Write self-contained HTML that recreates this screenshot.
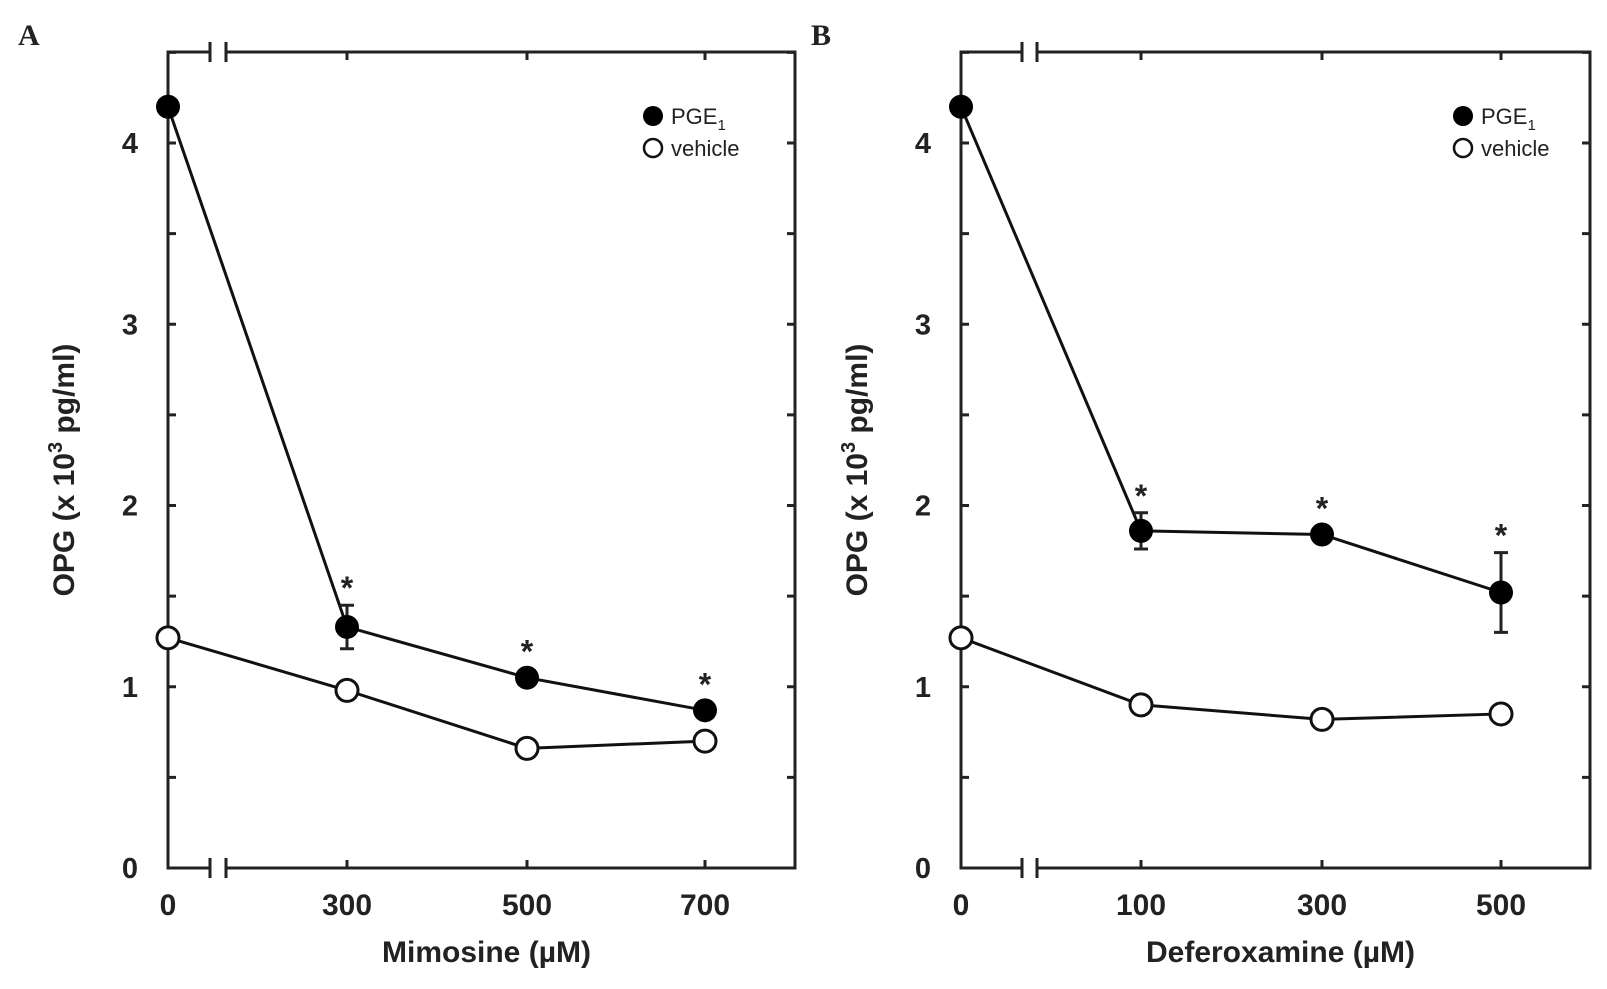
<!DOCTYPE html>
<html><head><meta charset="utf-8"><style>
body{margin:0;background:#fff}
svg text{font-family:"Liberation Sans",Arial,sans-serif;fill:#222}
</style></head><body>
<svg id="chart" width="1607" height="984" xmlns="http://www.w3.org/2000/svg"></svg>
<script>
const yTicks=[0,1,2,3,4];
const catsA=["0","300","500","700"];
const pgeA=[4.2,1.33,1.05,0.87];
const pgeErrA=[0,0.12,0.02,0.02];
const vehA=[1.27,0.98,0.66,0.70];
const starA=[false,true,true,true];
const catsB=["0","100","300","500"];
const pgeB=[4.2,1.86,1.84,1.52];
const pgeErrB=[0,0.1,0.02,0.22];
const vehB=[1.27,0.90,0.82,0.85];
const starB=[false,true,true,true];

const NS="http://www.w3.org/2000/svg";
const svg=document.getElementById('chart');
function el(tag,attrs,parent,text){const e=document.createElementNS(NS,tag);for(const k in attrs)e.setAttribute(k,attrs[k]);if(text!==undefined)e.textContent=text;(parent||svg).appendChild(e);return e;}
const Y0=868,YU=181.25;
function y(v){return Y0-v*YU;}

function panel(id,letter,L,R,xs,brk,cats,pge,err,veh,star,xlabel,legX){
  const g=el('g',{});
  
  
  const top=52, st={stroke:'#222','stroke-width':3,fill:'none'};
  function x(i){return xs[i];}
  el('path',Object.assign({d:`M${brk[0]},${top}H${L}V${Y0}H${brk[0]}M${brk[1]},${Y0}H${R}V${top}H${brk[1]}`},st),g);
  [brk[0],brk[1]].forEach(b=>{el('line',Object.assign({x1:b,x2:b,y1:top-10,y2:top+10},st),g);el('line',Object.assign({x1:b,x2:b,y1:Y0-10,y2:Y0+10},st),g);});
  for(let v=0.5;v<=4.5;v+=0.5){el('line',Object.assign({x1:L,x2:L+8,y1:y(v),y2:y(v)},st),g);el('line',Object.assign({x1:R,x2:R-8,y1:y(v),y2:y(v)},st),g);}
  yTicks.forEach(v=>{const t=el('text',{x:L-30,y:y(v)+10,'font-size':29,'font-weight':'bold','text-anchor':'end'},g,v);});
  cats.forEach((c,i)=>{
    if(i>0){el('line',Object.assign({x1:x(i),x2:x(i),y1:Y0,y2:Y0-8},st),g);el('line',Object.assign({x1:x(i),x2:x(i),y1:top,y2:top+8},st),g);}
    const t=el('text',{x:x(i),y:915,'font-size':30,'font-weight':'bold','text-anchor':'middle'},g,c);
    
  });
  const xt=el('text',{x:(L+R)/2+5,y:962,'font-size':30,'font-weight':'bold','text-anchor':'middle'},g,xlabel);
  
  const yt=el('text',{x:0,y:0,'font-size':30,'font-weight':'bold','text-anchor':'middle',transform:`translate(${L-94},${470}) rotate(-90)`},g);
  
  yt.innerHTML='OPG (x 10<tspan font-size="20" dy="-12">3</tspan><tspan dy="12"> pg/ml)</tspan>';
  const pl=el('text',{x:L-150,y:45,'font-size':30,'font-weight':'bold',style:'font-family:"Liberation Serif",serif'},g,letter);
  
  const lp=el('polyline',{points:pge.map((v,i)=>x(i)+','+y(v)).join(' '),stroke:'#111','stroke-width':3,fill:'none'},g);
  
  const lv=el('polyline',{points:veh.map((v,i)=>x(i)+','+y(v)).join(' '),stroke:'#111','stroke-width':3,fill:'none'},g);
  
  pge.forEach((v,i)=>{
    if(err[i]>0.05){el('path',{d:`M${x(i)},${y(v+err[i])}V${y(v-err[i])}M${x(i)-7},${y(v+err[i])}h14M${x(i)-7},${y(v-err[i])}h14`,stroke:'#222','stroke-width':3},g);}
    if(star[i]){const s=el('text',{x:x(i),y:y(v+Math.max(err[i],0.05))-6,'font-size':32,'font-weight':'bold','text-anchor':'middle'},g,'*');}
  });
  veh.forEach((v,i)=>{const c=el('circle',{cx:x(i),cy:y(v),r:11,fill:'#fff',stroke:'#111','stroke-width':3},g);});
  pge.forEach((v,i)=>{const c=el('circle',{cx:x(i),cy:y(v),r:12,fill:'#000'},g);});
  const lg=el('g',{},g);
  el('circle',{cx:legX,cy:116,r:10,fill:'#000'},lg);
  el('circle',{cx:legX,cy:148,r:9,fill:'#fff',stroke:'#111','stroke-width':2.5},lg);
  const t1=el('text',{x:legX+18,y:124,'font-size':22},lg);t1.innerHTML='PGE<tspan font-size="15" dy="6">1</tspan>';
  el('text',{x:legX+18,y:156,'font-size':22},lg,'vehicle');
}
panel('a','A',168,795,[168,347,527,705],[210,226],catsA,pgeA,pgeErrA,vehA,starA,'Mimosine (\u00b5M)',653);
panel('b','B',961,1590,[961,1141,1322,1501],[1022,1037],catsB,pgeB,pgeErrB,vehB,starB,'Deferoxamine (\u00b5M)',1463);
</script>
</body></html>
